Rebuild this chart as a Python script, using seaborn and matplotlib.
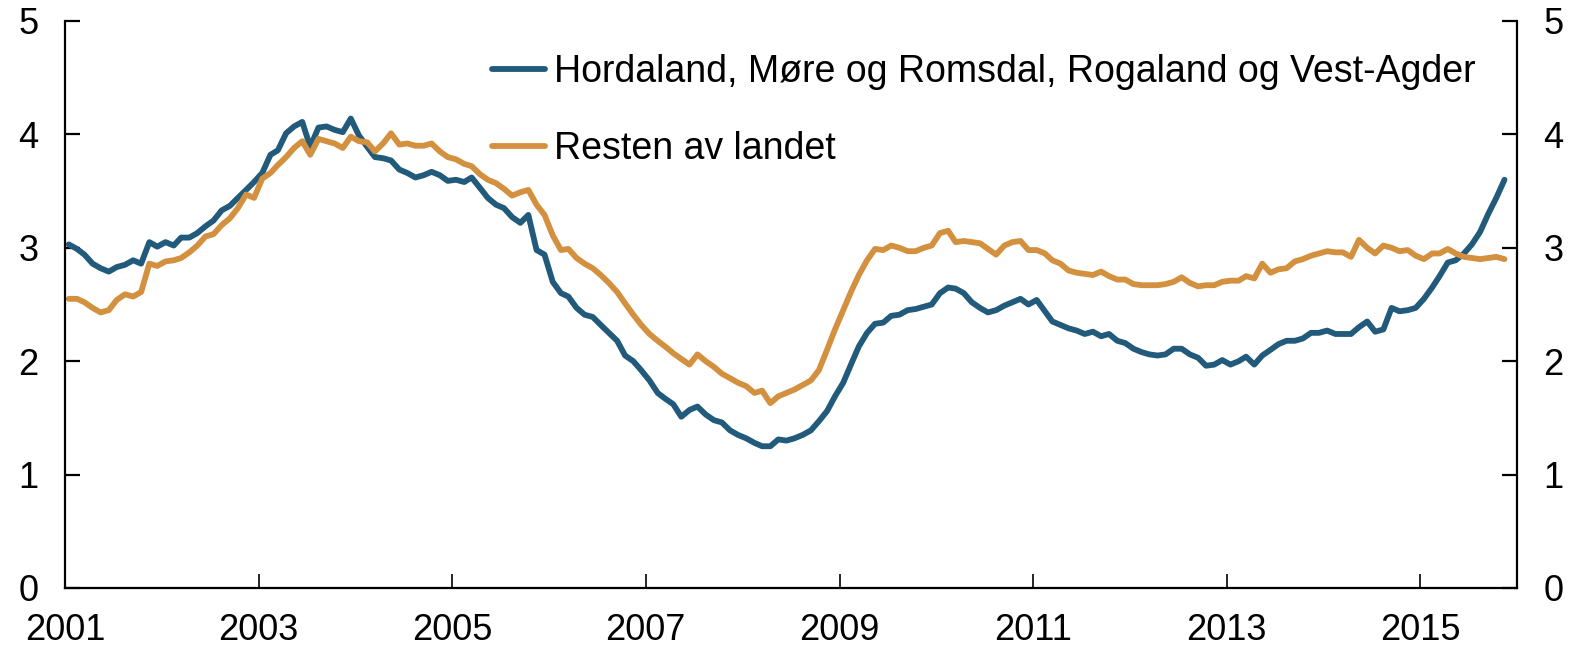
import pandas as pd
import matplotlib
matplotlib.use("Agg")
import matplotlib.pyplot as plt
import matplotlib.dates as mdates
import seaborn as sns

# Monthly series, Jan 2001 - Nov 2015
vest = [3.03, 2.99, 2.94, 2.86, 2.82, 2.79, 2.83, 2.85, 2.89, 2.86, 3.05, 3.01,
        3.05, 3.02, 3.09, 3.09, 3.13, 3.19, 3.24, 3.33, 3.37, 3.44, 3.51, 3.58,
        3.66, 3.82, 3.86, 4.01, 4.07, 4.11, 3.89, 4.06, 4.07, 4.04, 4.02, 4.14,
        3.99, 3.89, 3.80, 3.79, 3.77, 3.69, 3.66, 3.62, 3.64, 3.67, 3.64, 3.59,
        3.60, 3.58, 3.62, 3.53, 3.44, 3.38, 3.35, 3.27, 3.22, 3.29, 2.98, 2.94,
        2.70, 2.60, 2.57, 2.47, 2.41, 2.39, 2.32, 2.25, 2.18, 2.05, 2.00, 1.92,
        1.83, 1.72, 1.67, 1.62, 1.51, 1.57, 1.60, 1.53, 1.48, 1.46, 1.39, 1.35,
        1.32, 1.28, 1.25, 1.25, 1.31, 1.30, 1.32, 1.35, 1.39, 1.47, 1.56, 1.69,
        1.81, 1.98, 2.13, 2.25, 2.33, 2.34, 2.40, 2.41, 2.45, 2.46, 2.48, 2.50,
        2.60, 2.65, 2.64, 2.60, 2.52, 2.47, 2.43, 2.45, 2.49, 2.52, 2.55, 2.50,
        2.54, 2.44, 2.35, 2.32, 2.29, 2.27, 2.24, 2.26, 2.22, 2.24, 2.18, 2.16,
        2.11, 2.08, 2.06, 2.05, 2.06, 2.11, 2.11, 2.06, 2.03, 1.96, 1.97, 2.01,
        1.97, 2.00, 2.04, 1.97, 2.05, 2.10, 2.15, 2.18, 2.18, 2.20, 2.25, 2.25,
        2.27, 2.24, 2.24, 2.24, 2.30, 2.35, 2.26, 2.28, 2.47, 2.44, 2.45, 2.47,
        2.55, 2.65, 2.75, 2.87, 2.89, 2.95, 3.03, 3.14, 3.30, 3.44, 3.60]

resten = [2.55, 2.55, 2.52, 2.47, 2.43, 2.45, 2.54, 2.59, 2.57, 2.61, 2.86, 2.84,
          2.88, 2.89, 2.91, 2.96, 3.02, 3.10, 3.12, 3.20, 3.26, 3.35, 3.47, 3.44,
          3.61, 3.66, 3.73, 3.80, 3.88, 3.94, 3.82, 3.96, 3.94, 3.92, 3.88, 3.98,
          3.94, 3.93, 3.85, 3.92, 4.01, 3.91, 3.92, 3.90, 3.90, 3.92, 3.85, 3.80,
          3.78, 3.74, 3.72, 3.65, 3.60, 3.57, 3.52, 3.46, 3.49, 3.51, 3.38, 3.29,
          3.11, 2.98, 2.99, 2.91, 2.86, 2.82, 2.76, 2.69, 2.61, 2.51, 2.41, 2.32,
          2.24, 2.18, 2.13, 2.07, 2.02, 1.97, 2.06, 2.00, 1.95, 1.89, 1.85, 1.81,
          1.78, 1.72, 1.74, 1.63, 1.69, 1.72, 1.75, 1.79, 1.83, 1.92, 2.10, 2.28,
          2.45, 2.62, 2.76, 2.89, 2.99, 2.98, 3.02, 3.00, 2.97, 2.97, 3.00, 3.02,
          3.13, 3.15, 3.05, 3.06, 3.05, 3.04, 2.99, 2.94, 3.02, 3.05, 3.06, 2.98,
          2.98, 2.95, 2.89, 2.86, 2.80, 2.78, 2.77, 2.76, 2.79, 2.75, 2.72, 2.72,
          2.68, 2.67, 2.67, 2.67, 2.68, 2.70, 2.74, 2.69, 2.66, 2.67, 2.67, 2.70,
          2.71, 2.71, 2.75, 2.73, 2.86, 2.78, 2.81, 2.82, 2.88, 2.90, 2.93, 2.95,
          2.97, 2.96, 2.96, 2.92, 3.07, 3.00, 2.95, 3.02, 3.00, 2.97, 2.98, 2.93,
          2.90, 2.95, 2.95, 2.99, 2.95, 2.92, 2.91, 2.90, 2.91, 2.92, 2.90]

labels = ["Hordaland, Møre og Romsdal, Rogaland og Vest-Agder", "Resten av landet"]
colors = ["#215a7a", "#d3903f"]
tick_years = [2001, 2003, 2005, 2007, 2009, 2011, 2013, 2015]

dates = pd.date_range("2001-01-01", periods=len(vest), freq="MS") + pd.Timedelta(days=14)
df = pd.concat([
    pd.DataFrame({"dato": dates, "verdi": vest, "serie": labels[0]}),
    pd.DataFrame({"dato": dates, "verdi": resten, "serie": labels[1]}),
])

sns.set_style("ticks")
plt.rcParams["font.family"] = ["Liberation Sans", "DejaVu Sans"]
plt.rcParams["text.color"] = "black"

fig = plt.figure(figsize=(15.79, 6.48), dpi=100)
ax = fig.add_axes([0.0412, 0.0926, 0.9195, 0.875])

sns.lineplot(data=df, x="dato", y="verdi", hue="serie", hue_order=labels,
             palette=dict(zip(labels, colors)), linewidth=4.2, ax=ax)

ax.set_xlim(pd.Timestamp("2001-01-01"), pd.Timestamp("2016-01-01"))
ax.set_ylim(0, 5)
ax.set_xticks([pd.Timestamp(f"{y}-01-01") for y in tick_years])
ax.xaxis.set_major_formatter(mdates.DateFormatter("%Y"))
ax.set_yticks([0, 1, 2, 3, 4, 5])
ax.set_xlabel("")
ax.set_ylabel("")

for side in ["left", "right", "bottom"]:
    ax.spines[side].set_visible(True)
    ax.spines[side].set_linewidth(1.6)
    ax.spines[side].set_color("black")
ax.spines["top"].set_visible(False)

ax.tick_params(axis="x", direction="in", length=10, width=1.2, pad=18,
               labelsize=26, colors="black", labelcolor="black")
ax.tick_params(axis="y", direction="in", length=11, width=1.6, pad=19,
               labelsize=26, colors="black", labelcolor="black", left=True, right=True,
               labelleft=True, labelright=True)

leg = ax.legend(loc="upper left", bbox_to_anchor=(0.289, 0.955), frameon=False,
                fontsize=27, handlelength=1.4, handletextpad=0.25,
                labelspacing=1.1, borderaxespad=0, borderpad=0.2)
for line in leg.get_lines():
    line.set_linewidth(4.2)
for txt in leg.get_texts():
    txt.set_color("black")

fig.savefig("out.png", dpi=100)
